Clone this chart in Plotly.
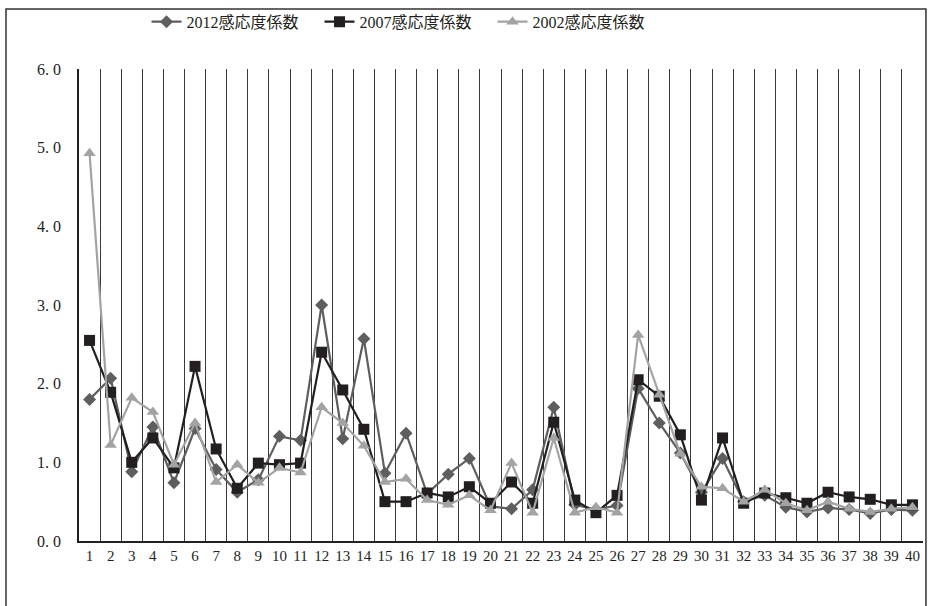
import plotly.graph_objects as go

# Sector numbers on the x axis
sectors = list(range(1, 41))

# Sensitivity coefficients by year
coef_2012 = [1.80, 2.07, 0.88, 1.45, 0.74, 1.43, 0.91, 0.62, 0.78, 1.33,
             1.28, 3.00, 1.30, 2.57, 0.86, 1.37, 0.60, 0.85, 1.05, 0.44,
             0.41, 0.65, 1.70, 0.46, 0.40, 0.45, 1.94, 1.50, 1.12, 0.62,
             1.05, 0.50, 0.58, 0.43, 0.37, 0.42, 0.40, 0.35, 0.40, 0.39]
coef_2007 = [2.55, 1.89, 1.00, 1.31, 0.93, 2.22, 1.17, 0.67, 0.99, 0.97,
             0.99, 2.40, 1.92, 1.42, 0.50, 0.50, 0.61, 0.56, 0.69, 0.48,
             0.75, 0.48, 1.51, 0.52, 0.36, 0.58, 2.05, 1.84, 1.35, 0.52,
             1.31, 0.48, 0.61, 0.55, 0.48, 0.62, 0.56, 0.53, 0.46, 0.46]
coef_2002 = [4.93, 1.22, 1.82, 1.64, 0.97, 1.50, 0.75, 0.97, 0.74, 0.93,
             0.87, 1.70, 1.50, 1.21, 0.75, 0.79, 0.52, 0.46, 0.58, 0.39,
             0.99, 0.36, 1.31, 0.36, 0.43, 0.36, 2.62, 1.86, 1.11, 0.69,
             0.67, 0.50, 0.65, 0.48, 0.39, 0.50, 0.41, 0.37, 0.41, 0.43]

series_names = ["2012感応度係数", "2007感応度係数", "2002感応度係数"]
y_ticks = [0, 1, 2, 3, 4, 5, 6]
y_tick_text = ["0. 0", "1. 0", "2. 0", "3. 0", "4. 0", "5. 0", "6. 0"]

FONT = "Liberation Serif, Noto Sans CJK JP, serif"

fig = go.Figure()

fig.add_trace(go.Scatter(
    x=sectors, y=coef_2012, name=series_names[0], mode="lines+markers",
    line=dict(color="#5e5e5e", width=2.2),
    marker=dict(symbol="diamond", size=10, color="#5e5e5e"),
))
fig.add_trace(go.Scatter(
    x=sectors, y=coef_2007, name=series_names[1], mode="lines+markers",
    line=dict(color="#231f20", width=2.2),
    marker=dict(symbol="square", size=11, color="#231f20"),
))
fig.add_trace(go.Scatter(
    x=sectors, y=coef_2002, name=series_names[2], mode="lines+markers",
    line=dict(color="#a3a3a3", width=2.2),
    marker=dict(symbol="triangle-up", size=11, color="#a3a3a3"),
))

fig.update_layout(
    width=928, height=606,
    margin=dict(l=79, r=5, t=69, b=65),
    paper_bgcolor="white", plot_bgcolor="white",
    font=dict(family=FONT, size=15, color="#231f20"),
    showlegend=True,
    legend=dict(
        orientation="h", x=0.08, xanchor="left", y=1.10, yanchor="middle",
        font=dict(size=16, family=FONT, color="#231f20"),
        bgcolor="rgba(0,0,0,0)", entrywidth=128,
    ),
    xaxis=dict(
        range=[0.5, 40.5], tickmode="array", tickvals=sectors,
        ticktext=[str(s) for s in sectors],
        showgrid=False, zeroline=False,
        showline=True, linecolor="#231f20", linewidth=1.5,
        ticks="", tickfont=dict(size=15, family=FONT),
    ),
    yaxis=dict(
        range=[0, 6], tickmode="array", tickvals=y_ticks,
        ticktext=y_tick_text, showgrid=False, zeroline=False,
        showline=True, linecolor="#231f20", linewidth=1.5,
        ticks="", ticklabelstandoff=13, tickfont=dict(size=16, family=FONT),
    ),
    shapes=[dict(
        type="rect", xref="paper", yref="paper",
        x0=-0.0865, x1=1.0035, y0=-0.3, y1=1.127,
        line=dict(color="#333333", width=1.5), fillcolor="rgba(0,0,0,0)",
        layer="below",
    )],
)

# Vertical separators between sectors, drawn as minor grid lines
fig.update_xaxes(minor=dict(tick0=0.5, dtick=1, showgrid=True,
                            gridcolor="#3a3a3a", gridwidth=1, ticks=""))

fig.write_html("out.html")
